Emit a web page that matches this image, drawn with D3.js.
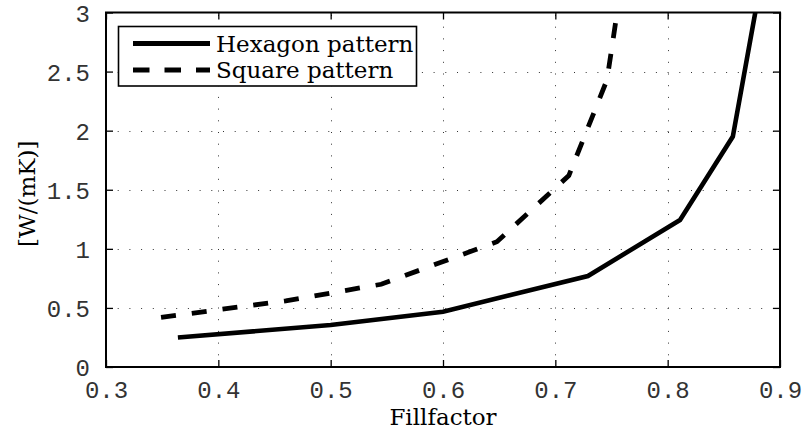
<!DOCTYPE html>
<html>
<head>
<meta charset="utf-8">
<script src="https://cdn.jsdelivr.net/npm/d3@7"></script>
<style>
  html, body { margin: 0; padding: 0; background: #fff; }
  svg { display: block; }
</style>
</head>
<body>
<svg id="chart" width="805" height="434"></svg>
<script>
// Thermal conductivity versus fill factor for two packing patterns
const hexFill   = [0.364, 0.5, 0.6, 0.729, 0.811, 0.858, 0.878];
const hexK      = [0.25, 0.355, 0.468, 0.77, 1.244, 1.95, 3.0];
const squareFill = [0.349, 0.46, 0.545, 0.648, 0.712, 0.746, 0.755];
const squareK    = [0.42, 0.56, 0.70, 1.06, 1.62, 2.43, 3.0];

const xTicks = [0.3, 0.4, 0.5, 0.6, 0.7, 0.8, 0.9];
const yTicks = [0, 0.5, 1, 1.5, 2, 2.5, 3];
const xTickLabels = ["0.3", "0.4", "0.5", "0.6", "0.7", "0.8", "0.9"];
const yTickLabels = ["0", "0.5", "1", "1.5", "2", "2.5", "3"];

const seriesNames = ["Hexagon pattern", "Square pattern"];
const xLabel = "Fillfactor";
const yLabel = "[W/(mK)]";

const plotL = 106, plotR = 780, plotT = 12.5, plotB = 367;

const svg = d3.select("#chart");
const x = d3.scaleLinear().domain([0.3, 0.9]).range([plotL, plotR]);
const y = d3.scaleLinear().domain([0, 3]).range([plotB, plotT]);

const monoFont = "'Liberation Mono', 'DejaVu Sans Mono', monospace";
const serifFont = "'DejaVu Serif', 'Liberation Serif', serif";

// clip region for the plotted curves
svg.append("defs").append("clipPath").attr("id", "plotClip")
  .append("rect").attr("x", plotL).attr("y", plotT)
  .attr("width", plotR - plotL).attr("height", plotB - plotT);

// dotted grid
const grid = svg.append("g").attr("stroke", "#333").attr("stroke-width", 1)
  .attr("stroke-dasharray", "1,10.7");
grid.selectAll("line.vx").data(xTicks.slice(1, -1)).join("line")
  .attr("x1", d => Math.round(x(d)) + 0.5).attr("x2", d => Math.round(x(d)) + 0.5)
  .attr("y1", plotB).attr("y2", plotT);
grid.selectAll("line.hy").data(yTicks.slice(1, -1)).join("line")
  .attr("y1", d => Math.round(y(d)) + 0.5).attr("y2", d => Math.round(y(d)) + 0.5)
  .attr("x1", plotL).attr("x2", plotR);

// curves
const line = d3.line().x(d => x(d[0])).y(d => y(d[1]));
const curves = svg.append("g").attr("clip-path", "url(#plotClip)");
curves.append("path")
  .datum(d3.zip(hexFill, hexK))
  .attr("d", line).attr("fill", "none").attr("stroke", "#000")
  .attr("stroke-width", 4.6).attr("stroke-linejoin", "miter");
curves.append("path")
  .datum(d3.zip(squareFill, squareK))
  .attr("d", line).attr("fill", "none").attr("stroke", "#000")
  .attr("stroke-width", 4.8).attr("stroke-dasharray", "15,16");

// axes frame with inward ticks on all sides
const tickLen = 7;
const axisBottom = d3.axisBottom(x).tickValues(xTicks).tickSizeInner(-tickLen).tickSizeOuter(0)
  .tickFormat((d, i) => xTickLabels[i]).tickPadding(14);
const axisLeft = d3.axisLeft(y).tickValues(yTicks).tickSizeInner(-tickLen).tickSizeOuter(0)
  .tickFormat((d, i) => yTickLabels[i]).tickPadding(16);
const axisTop = d3.axisTop(x).tickValues(xTicks).tickSizeInner(-tickLen).tickSizeOuter(0).tickFormat("");
const axisRight = d3.axisRight(y).tickValues(yTicks).tickSizeInner(-tickLen).tickSizeOuter(0).tickFormat("");

function styleAxis(g) {
  g.select(".domain").remove();
  g.selectAll(".tick line").attr("stroke", "#000").attr("stroke-width", 1.3);
  g.selectAll(".tick text").attr("fill", "#333")
    .style("font-family", monoFont).style("font-size", "24px");
}

svg.append("g").attr("transform", `translate(0,${plotB})`).call(axisBottom).call(styleAxis)
  .selectAll(".tick text").attr("dy", "0.71em");
svg.append("g").attr("transform", `translate(${plotL},0)`).call(axisLeft).call(styleAxis)
  .selectAll(".tick text").attr("dy", "0.36em");
svg.append("g").attr("transform", `translate(0,${plotT})`).call(axisTop).call(styleAxis);
svg.append("g").attr("transform", `translate(${plotR},0)`).call(axisRight).call(styleAxis);

svg.append("rect").attr("x", plotL).attr("y", plotT)
  .attr("width", plotR - plotL).attr("height", plotB - plotT)
  .attr("fill", "none").attr("stroke", "#000").attr("stroke-width", 2);

// axis titles
svg.append("text").attr("x", (plotL + plotR) / 2).attr("y", 425)
  .attr("text-anchor", "middle").style("font-family", serifFont).style("font-size", "23px")
  .text(xLabel);
svg.append("text").attr("transform", `translate(35,${(plotT + plotB) / 2 + 4}) rotate(-90)`)
  .attr("text-anchor", "middle").style("font-family", serifFont).style("font-size", "23px")
  .text(yLabel);

// legend
const legend = svg.append("g");
legend.append("rect").attr("x", 118.5).attr("y", 26.5).attr("width", 298).attr("height", 59.5)
  .attr("fill", "#fff").attr("stroke", "#000").attr("stroke-width", 1.6);
const legendRows = [
  { name: seriesNames[0], dash: null, yc: 43.5 },
  { name: seriesNames[1], dash: "16.5,15", yc: 70 }
];
legendRows.forEach(r => {
  legend.append("line").attr("x1", 133).attr("x2", 210).attr("y1", r.yc).attr("y2", r.yc)
    .attr("stroke", "#000").attr("stroke-width", 4.8)
    .attr("stroke-dasharray", r.dash);
  legend.append("text").attr("x", 216).attr("y", r.yc).attr("dy", "0.36em")
    .style("font-family", serifFont).style("font-size", "23px")
    .text(r.name);
});
</script>
</body>
</html>
